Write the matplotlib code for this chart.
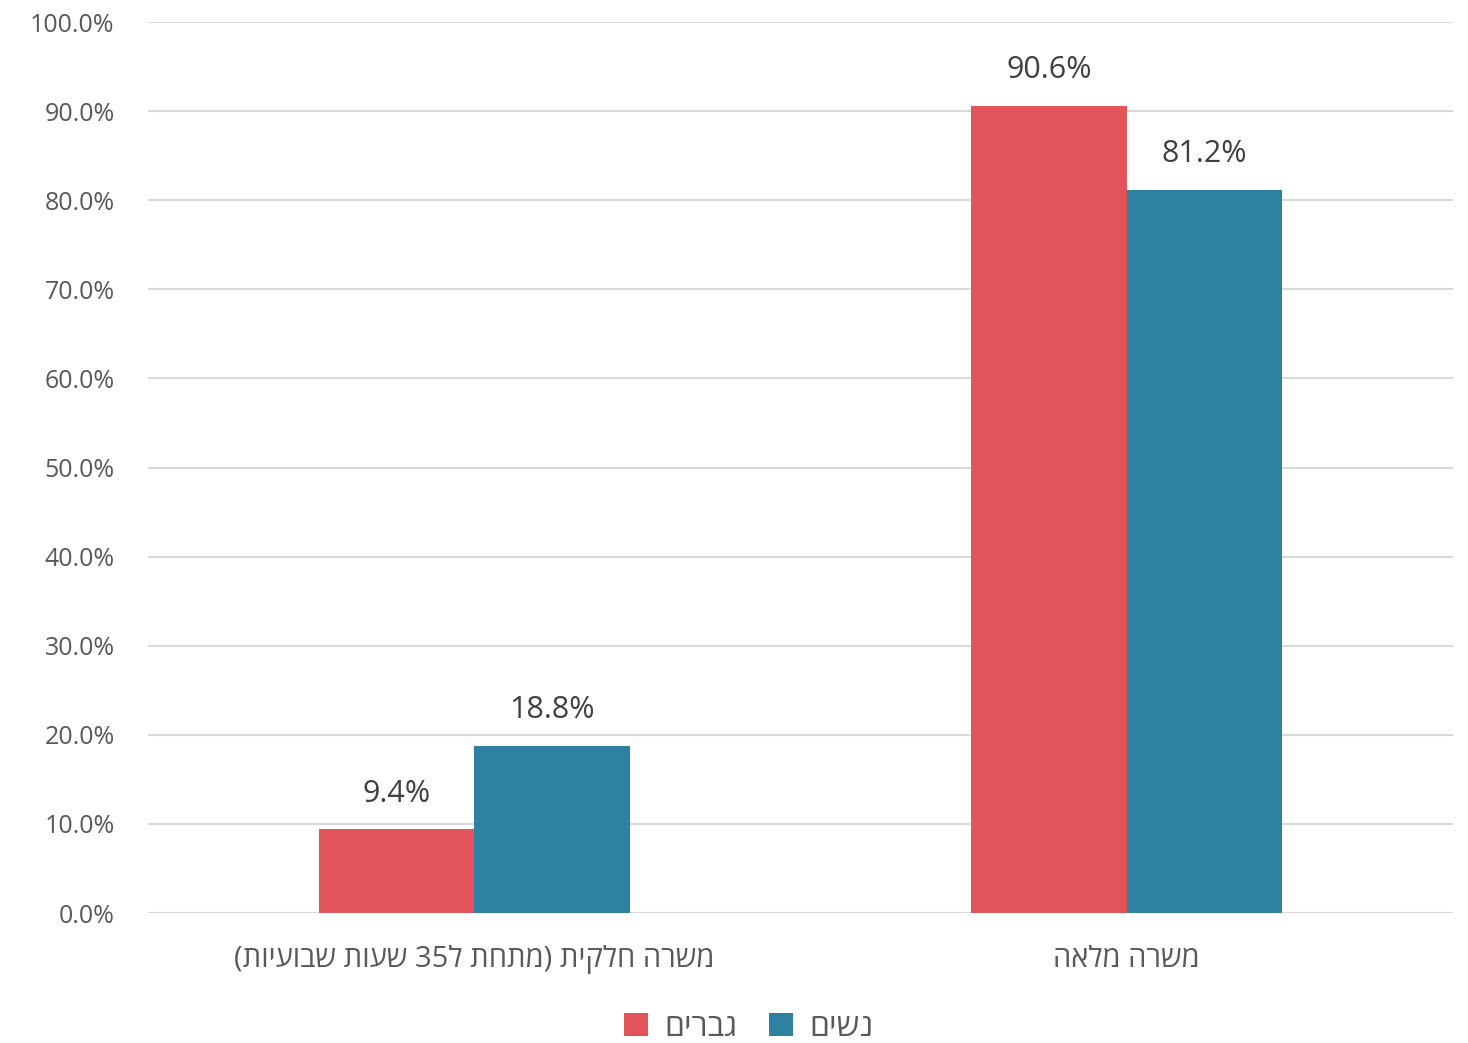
import matplotlib
matplotlib.use('Agg')
import matplotlib.pyplot as plt
import numpy as np
import re

plt.rcParams['font.family'] = ['Open Sans', 'DejaVu Sans']

categories = ['משרה חלקית (מתחת ל35 שעות שבועיות)', 'משרה מלאה']
series_names = ['גברים', 'נשים']
men = [9.4, 90.6]
women = [18.8, 81.2]
colors = ['#E3545A', '#2F81A2']


def rtl(s):
    # crude visual reordering for hebrew text (matplotlib has no bidi)
    mirror = {'(': ')', ')': '('}
    r = ''.join(mirror.get(c, c) for c in s[::-1])
    return re.sub(r'\d+', lambda m: m.group(0)[::-1], r)


fig = plt.figure(figsize=(14.68, 10.43), dpi=100)
ax = fig.add_axes([0.1008, 0.1246, 0.889, 0.8543])

x = np.arange(len(categories))
w = 0.238
b1 = ax.bar(x - w / 2, men, w, color=colors[0], label=rtl(series_names[0]), zorder=3)
b2 = ax.bar(x + w / 2, women, w, color=colors[1], label=rtl(series_names[1]), zorder=3)

for bars in (b1, b2):
    for r in bars:
        ax.text(r.get_x() + r.get_width() / 2, r.get_height() + 2.3, f'{r.get_height():.1f}%',
                ha='center', va='bottom', fontsize=22, color='#404040')

ax.set_xlim(-0.5, 1.5)
ax.set_ylim(0, 100)
ax.set_yticks(np.arange(0, 101, 10))
ax.set_yticklabels([f'{v:.1f}%' for v in np.arange(0, 101, 10)], fontsize=18, color='#595959')
ax.set_xticks(x)
ax.set_xticklabels([rtl(c) for c in categories], fontsize=21, color='#595959')
ax.tick_params(axis='y', length=0, pad=24)
ax.tick_params(axis='x', length=0, pad=23)
ax.yaxis.grid(True, color='#D9D9D9', linewidth=1.5, zorder=0)
for sp in ax.spines.values():
    sp.set_visible(False)

fig.legend(loc='center', bbox_to_anchor=(0.51, 0.015), ncol=2, frameon=False,
           fontsize=23, handlelength=0.75, handleheight=0.75, handletextpad=0.5,
           columnspacing=1.0, labelcolor='#595959', borderpad=0)

fig.savefig('out.png', dpi=100)
